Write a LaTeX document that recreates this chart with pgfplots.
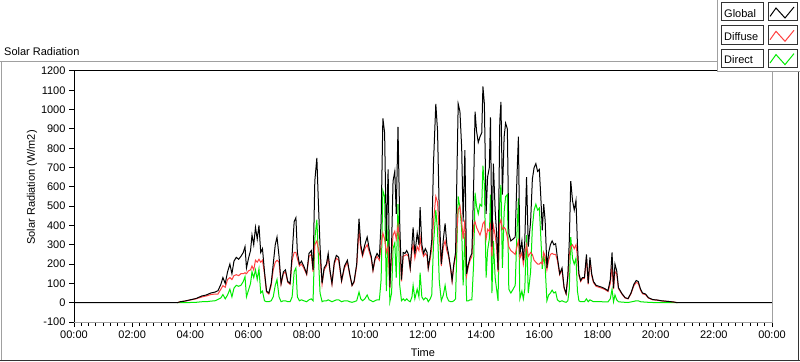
\documentclass[border=0pt]{standalone}
\usepackage{fontspec}
\setmainfont{Liberation Sans}
\usepackage{pgfplots}
\usepackage{pgfplotstable}
\pgfplotsset{compat=1.18}
\definecolor{lvred}{RGB}{255,64,64}
\definecolor{lvgreen}{RGB}{0,235,0}
\definecolor{lvgray}{RGB}{160,160,160}
\newcommand\lv{\fontsize{11bp}{13bp}\selectfont}
\pgfplotstableread{
t G D B
0 0 nan nan
3.55 0 0 0
3.65 5 5 0
3.8 8 8 0
4.0 15 14 1
4.2 22 20 2
4.4 35 30 5
4.55 40 35 5
4.7 50 42 8
4.85 55 45 10
4.95 62 45 17
5.05 95 70 25
5.12 130 88 42
5.2 100 80 20
5.28 160 120 40
5.36 200 130 70
5.43 150 120 30
5.5 215 140 75
5.58 235 145 90
5.66 225 140 85
5.74 240 150 90
5.82 260 150 110
5.88 290 155 135
5.93 180 150 30
6.0 230 165 65
6.07 270 170 100
6.12 350 190 160
6.18 300 170 130
6.24 390 220 170
6.3 330 210 120
6.36 400 225 175
6.42 260 210 50
6.48 280 220 60
6.55 160 150 10
6.62 60 55 5
6.7 50 45 5
6.78 100 90 10
6.85 200 170 30
6.92 300 210 90
6.98 340 220 120
7.05 240 210 30
7.12 100 95 5
7.2 160 150 10
7.27 170 160 10
7.35 110 105 5
7.43 100 95 5
7.5 250 220 30
7.57 420 260 160
7.63 440 260 180
7.68 260 230 30
7.75 200 190 10
7.82 215 200 15
7.9 190 180 10
8.0 150 145 5
8.08 255 240 15
8.16 270 250 20
8.22 170 160 10
8.28 630 300 330
8.35 750 320 430
8.4 530 280 250
8.46 290 240 50
8.53 100 95 5
8.6 180 170 10
8.68 200 190 10
8.74 255 240 15
8.8 170 160 10
8.87 100 95 5
8.95 210 200 10
9.02 245 230 15
9.1 235 220 15
9.2 115 110 5
9.3 190 180 10
9.4 220 210 10
9.48 150 145 5
9.56 90 88 2
9.63 110 105 5
9.72 200 190 10
9.8 435 380 55
9.86 300 280 20
9.92 250 240 10
10.0 300 280 20
10.08 340 300 40
10.15 280 265 15
10.22 240 230 10
10.28 170 165 5
10.35 230 220 10
10.42 255 240 15
10.5 235 220 15
10.56 420 300 120
10.62 955 360 580
10.68 880 330 550
10.74 320 260 60
10.8 690 290 400
10.86 80 75 5
10.92 300 250 50
10.97 630 350 280
11.03 680 370 310
11.08 460 330 130
11.14 910 400 510
11.2 410 320 90
11.26 120 110 10
11.32 260 240 20
11.38 255 245 10
11.44 270 250 20
11.5 250 240 10
11.56 180 175 5
11.62 300 270 30
11.66 390 300 90
11.72 250 230 20
11.8 360 290 70
11.86 300 270 30
11.9 495 340 155
11.96 300 270 30
12.02 255 240 15
12.08 280 255 25
12.14 260 240 20
12.18 180 175 5
12.25 250 230 20
12.3 320 280 40
12.36 720 420 300
12.44 1030 550 480
12.5 890 520 370
12.56 460 350 110
12.63 200 190 10
12.7 330 290 40
12.76 410 320 90
12.82 300 270 30
12.88 250 240 10
12.95 180 175 5
13.0 115 110 5
13.06 200 190 10
13.12 260 240 20
13.17 700 380 320
13.21 1030 480 550
13.27 990 500 490
13.33 800 420 380
13.38 420 330 90
13.44 790 430 360
13.5 150 140 10
13.56 200 190 10
13.62 235 220 15
13.68 255 240 15
13.74 600 400 200
13.79 990 420 570
13.84 890 390 500
13.9 830 370 460
13.96 860 350 510
14.02 880 380 500
14.06 1120 410 710
14.11 1030 420 610
14.17 460 330 130
14.22 650 380 270
14.28 700 370 330
14.32 960 400 560
14.37 290 240 50
14.42 720 400 320
14.48 480 350 130
14.53 360 290 70
14.58 170 160 10
14.64 940 410 530
14.68 1040 430 610
14.73 560 380 180
14.79 860 390 470
14.84 930 380 550
14.9 900 340 560
14.95 360 290 70
15.02 320 270 50
15.1 330 260 70
15.17 340 250 90
15.23 650 290 360
15.28 860 320 540
15.33 250 230 20
15.4 320 260 60
15.45 220 200 20
15.5 320 250 70
15.56 650 300 350
15.62 290 240 50
15.7 420 260 160
15.76 640 250 390
15.82 700 220 480
15.88 720 210 510
15.94 680 200 480
16.0 690 200 490
16.06 520 210 310
16.1 375 200 175
16.15 510 260 250
16.2 425 240 185
16.26 180 170 10
16.32 260 220 40
16.38 300 250 50
16.44 320 255 65
16.5 300 250 50
16.56 306 250 56
16.62 235 220 15
16.7 150 145 5
16.78 180 170 10
16.85 80 75 5
16.92 47 45 2
16.98 140 130 10
17.03 320 250 70
17.08 630 290 340
17.14 530 300 230
17.2 480 280 200
17.26 530 300 230
17.31 300 240 60
17.36 150 140 10
17.42 115 110 5
17.48 130 125 5
17.55 130 125 5
17.62 250 230 20
17.68 100 95 5
17.74 235 220 15
17.8 150 140 10
17.86 110 105 5
17.95 90 85 5
18.05 85 80 5
18.15 80 75 5
18.26 72 68 4
18.36 62 58 4
18.44 120 100 20
18.5 260 190 70
18.55 75 70 5
18.6 200 160 40
18.66 165 150 15
18.72 78 73 5
18.84 47 44 3
18.95 26 24 2
19.05 21 20 1
19.15 50 46 4
19.25 95 88 7
19.33 115 105 10
19.4 110 100 10
19.48 70 65 5
19.55 50 46 4
19.65 45 42 3
19.75 26 24 2
19.9 16 15 1
20.05 14 13 1
20.2 10 9 1
20.4 7 7 0
20.6 4 4 0
20.75 0 0 0
24 0 nan nan
}\solar

\begin{document}
\begin{tikzpicture}[x=1bp,y=1bp]
\path[use as bounding box] (0,0) rectangle (800,361);
\fill[white] (0,0) rectangle (800,361);
% outer frame
\draw[lvgray, line width=1bp] (0,299.5) -- (800,299.5);
\draw[lvgray, line width=1bp] (1,0) -- (1,299.5);
\draw[black!80, line width=1bp] (0,1) -- (800,1);
\draw[black!80, line width=1bp] (798.5,0) -- (798.5,299.5);
\node[anchor=base west, inner sep=0, font=\lv] at (4,305.3) {Solar Radiation};
\begin{axis}[at={(74bp,39bp)}, anchor=south west, scale only axis,
  width=698bp, height=251bp,
  xmin=0, xmax=24, ymin=-100, ymax=1200,
  axis line style={draw=none},
  xtick={0,2,...,24},
  xticklabels={00:00,02:00,04:00,06:00,08:00,10:00,12:00,14:00,16:00,18:00,20:00,22:00,00:00},
  minor x tick num=7,
  ytick={-100,0,...,1200},
  tick pos=left,
  tick align=outside,
  major tick length=5bp, minor tick length=3.5bp,
  tick style={black, line width=1bp},
  tick label style={font=\lv},
  /pgf/number format/assume math mode=true,
  /pgf/number format/1000 sep={},
  xlabel={Time}, ylabel={Solar Radiation (W/m2)},
  label style={font=\lv},
  xlabel style={at={(axis description cs:0.5,-0.1235)}, anchor=center},
  ylabel style={at={(axis description cs:-0.0602,0.536)}, anchor=center},
]
\addplot[lvgreen, line width=1bp] table[x=t,y=B]{\solar};
\addplot[lvred, line width=1bp] table[x=t,y=D]{\solar};
\addplot[black, line width=1bp] table[x=t,y=G]{\solar};
\end{axis}
% plot area border
\draw[black, line width=1bp] (74.5,39) -- (74.5,290.5) -- (772,290.5);
\draw[lvgray, line width=1bp] (772.5,290.5) -- (772.5,38.5) -- (74,38.5);
% legend panel
\fill[white] (717,289) rectangle (800,361);
\draw[lvgray, line width=1bp] (717.5,361) -- (717.5,289.5) -- (800,289.5);
\draw[black!80, line width=1bp] (721.5,358.3) rectangle (763.5,340.3);
\node[anchor=base west, inner sep=0, font=\lv] at (724,343.7) {Global};
\draw[black!80, line width=1bp] (768.5,358.3) rectangle (797.5,340.3);
\draw[black, line width=1bp] (770,344.6) -- (776,353) -- (785,343) -- (794,354);
\draw[black!80, line width=1bp] (721.5,335.0) rectangle (763.5,317.0);
\node[anchor=base west, inner sep=0, font=\lv] at (724,320.4) {Diffuse};
\draw[black!80, line width=1bp] (768.5,335.0) rectangle (797.5,317.0);
\draw[lvred, line width=1bp] (770,321.3) -- (776,329.7) -- (785,319.7) -- (794,330.7);
\draw[black!80, line width=1bp] (721.5,311.7) rectangle (763.5,293.7);
\node[anchor=base west, inner sep=0, font=\lv] at (724,297.1) {Direct};
\draw[black!80, line width=1bp] (768.5,311.7) rectangle (797.5,293.7);
\draw[lvgreen, line width=1bp] (770,298) -- (776,306.4) -- (785,296.4) -- (794,307.4);
\end{tikzpicture}
\end{document}
